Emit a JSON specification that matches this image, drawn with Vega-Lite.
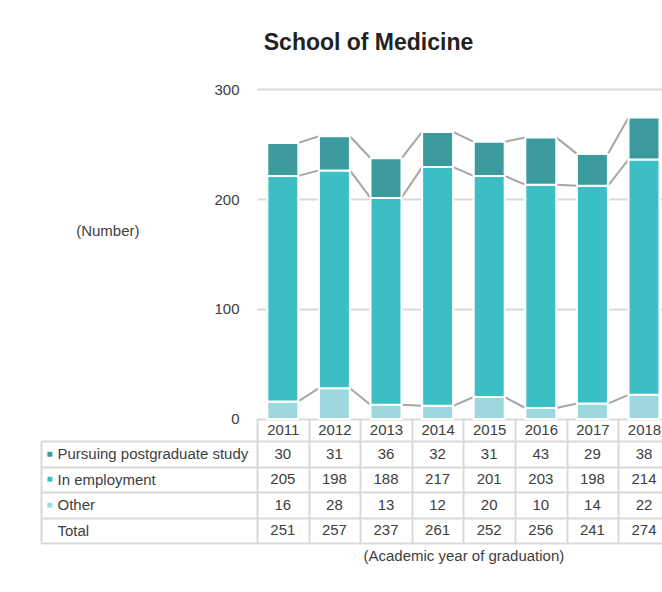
{
  "$schema": "https://vega.github.io/schema/vega-lite/v6.json",
  "padding": {"left": 40, "top": 32, "right": 0, "bottom": 0},
  "background": "white",
  "title": {"text": "School of Medicine", "anchor": "middle", "fontSize": 23, "fontWeight": "bold", "color": "#222222", "offset": 27, "dx": 13, "baseline": "top"},
  "datasets": {
    "grad": [
      {"year": "2011", "status": "Other", "n": 16, "k": 1},
      {"year": "2011", "status": "In employment", "n": 205, "k": 2},
      {"year": "2011", "status": "Pursuing postgraduate study", "n": 30, "k": 3},
      {"year": "2012", "status": "Other", "n": 28, "k": 1},
      {"year": "2012", "status": "In employment", "n": 198, "k": 2},
      {"year": "2012", "status": "Pursuing postgraduate study", "n": 31, "k": 3},
      {"year": "2013", "status": "Other", "n": 13, "k": 1},
      {"year": "2013", "status": "In employment", "n": 188, "k": 2},
      {"year": "2013", "status": "Pursuing postgraduate study", "n": 36, "k": 3},
      {"year": "2014", "status": "Other", "n": 12, "k": 1},
      {"year": "2014", "status": "In employment", "n": 217, "k": 2},
      {"year": "2014", "status": "Pursuing postgraduate study", "n": 32, "k": 3},
      {"year": "2015", "status": "Other", "n": 20, "k": 1},
      {"year": "2015", "status": "In employment", "n": 201, "k": 2},
      {"year": "2015", "status": "Pursuing postgraduate study", "n": 31, "k": 3},
      {"year": "2016", "status": "Other", "n": 10, "k": 1},
      {"year": "2016", "status": "In employment", "n": 203, "k": 2},
      {"year": "2016", "status": "Pursuing postgraduate study", "n": 43, "k": 3},
      {"year": "2017", "status": "Other", "n": 14, "k": 1},
      {"year": "2017", "status": "In employment", "n": 198, "k": 2},
      {"year": "2017", "status": "Pursuing postgraduate study", "n": 29, "k": 3},
      {"year": "2018", "status": "Other", "n": 22, "k": 1},
      {"year": "2018", "status": "In employment", "n": 214, "k": 2},
      {"year": "2018", "status": "Pursuing postgraduate study", "n": 38, "k": 3}
    ]
  },
  "spacing": 22,
  "bounds": "flush",
  "resolve": {"scale": {"x": "independent", "y": "independent"}},
  "vconcat": [
    {
      "width": 412.8,
      "height": 330,
      "data": {"name": "grad"},
      "layer": [
        {
          "transform": [
            {"stack": "n", "groupby": ["year"], "sort": [{"field": "k", "order": "ascending"}], "as": ["y0", "y1"]},
            {"window": [{"op": "lead", "field": "y1", "as": "y1n"}, {"op": "lead", "field": "year", "as": "yearn"}], "groupby": ["status"], "sort": [{"field": "year", "order": "ascending"}]},
            {"filter": "datum.yearn != null"}
          ],
          "mark": {"type": "rule", "color": "#A6A6A6", "strokeWidth": 2},
          "encoding": {
            "x": {"field": "year", "type": "ordinal", "bandPosition": 1, "axis": null},
            "x2": {"field": "yearn", "bandPosition": 0},
            "y": {"field": "y1", "type": "quantitative", "title": "(Number)"},
            "y2": {"field": "y1n"}
          }
        },
        {
          "mark": {"type": "bar", "stroke": "white", "strokeWidth": 2},
          "encoding": {
            "x": {"field": "year", "type": "ordinal", "scale": {"paddingInner": 0.4, "paddingOuter": 0.2}, "axis": null},
            "y": {
              "field": "n", "type": "quantitative", "stack": "zero", "title": "(Number)",
              "scale": {"domain": [0, 300], "nice": false},
              "axis": {"values": [0, 100, 200, 300], "grid": true, "gridColor": "#D9D9D9", "gridWidth": 2, "domain": false, "ticks": false, "tickSize": 0, "labelPadding": 18, "labelFontSize": 15, "labelColor": "#404040", "titleAngle": 0, "titleAlign": "right", "titleBaseline": "middle", "titleX": -118, "titleY": 141, "titleFontSize": 15, "titleFontWeight": "normal", "titleColor": "#404040"}
            },
            "color": {"field": "status", "type": "nominal", "scale": {"domain": ["Pursuing postgraduate study", "In employment", "Other"], "range": ["#3A9A9D", "#3CBFC4", "#9DD8DE"]}, "legend": null},
            "order": {"field": "k", "type": "quantitative"}
          }
        }
      ]
    },
    {
      "width": 412.8,
      "height": 102,
      "data": {"name": "grad"},
      "layer": [
        {
          "mark": {"type": "text", "fontSize": 15, "color": "#404040", "baseline": "middle"},
          "encoding": {
            "x": {"field": "year", "type": "ordinal", "title": null, "scale": {"paddingInner": 0, "paddingOuter": 0},
              "axis": {"orient": "top", "tickBand": "extent", "tickSize": 22, "tickColor": "#D9D9D9", "tickWidth": 2, "domain": false, "grid": true, "gridColor": "#D9D9D9", "gridWidth": 2, "labelPadding": -11, "labelBaseline": "middle", "labelAngle": 0, "labelFontSize": 15, "labelColor": "#404040"}},
            "y": {"field": "status", "type": "nominal", "title": null,
              "scale": {"domain": ["Pursuing postgraduate study", "In employment", "Other", "Total"], "paddingInner": 0, "paddingOuter": 0},
              "axis": {"orient": "left", "offset": 216, "tickBand": "extent", "tickSize": -216, "tickColor": "#D9D9D9", "tickWidth": 2, "domain": true, "domainColor": "#D9D9D9", "domainWidth": 2, "grid": true, "gridColor": "#D9D9D9", "gridWidth": 2, "labelAlign": "left", "labelBaseline": "middle", "labelPadding": 200, "labelLimit": 0, "labelFontSize": 15, "labelColor": "#404040"}},
            "text": {"field": "n", "type": "quantitative"}
          }
        },
        {
          "transform": [{"aggregate": [{"op": "sum", "field": "n", "as": "total"}], "groupby": ["year"]}],
          "mark": {"type": "text", "fontSize": 15, "color": "#404040", "baseline": "middle"},
          "encoding": {
            "x": {"field": "year", "type": "ordinal", "title": "(Academic year of graduation)",
              "axis": {"orient": "bottom", "labels": false, "ticks": false, "domain": false, "grid": false, "titlePadding": 6, "titleFontSize": 15, "titleFontWeight": "normal", "titleColor": "#404040"}},
            "y": {"datum": "Total", "type": "nominal", "title": null,
              "axis": {"orient": "left", "domain": false, "ticks": false, "tickSize": 0, "grid": false, "labelExpr": "datum.value == 'Total' ? '' : '■'", "labelAlign": "left", "labelBaseline": "middle", "labelPadding": 211, "labelFontSize": 10,
                "labelColor": {"condition": [{"test": "datum.value == 'Pursuing postgraduate study'", "value": "#3A9A9D"}, {"test": "datum.value == 'In employment'", "value": "#3CBFC4"}], "value": "#9DD8DE"}}},
            "text": {"field": "total", "type": "quantitative"}
          }
        }
      ],
      "resolve": {"axis": {"x": "independent", "y": "independent"}}
    }
  ],
  "config": {"font": "Liberation Sans", "view": {"stroke": null}}
}
